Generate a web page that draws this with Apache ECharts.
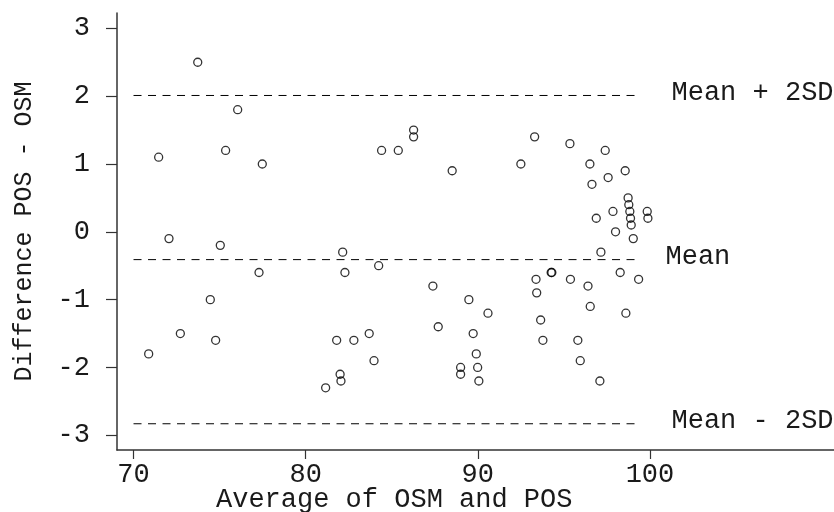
<!DOCTYPE html>
<html>
<head>
<meta charset="utf-8">
<script src="https://cdn.jsdelivr.net/npm/echarts@6/dist/echarts.min.js"></script>
<style>html,body{margin:0;padding:0;background:#fff;}#chart{width:834px;height:512px;}</style>
</head>
<body>
<div id="chart"></div>
<script>
// Average of OSM and POS (x) and Difference POS - OSM (y)
const avgValues = [
  73.73, 71.46, 76.05, 75.35, 77.48, 72.06, 75.04, 84.41, 85.38, 86.27,
  86.27, 82.15, 88.51, 92.50, 93.30, 95.35, 97.40, 96.51, 97.57, 98.56,
  96.63, 98.73, 98.77, 98.83, 98.87, 98.91, 99.84, 99.88, 97.85, 96.88,
  98.00, 99.03, 97.15, 98.27, 95.38, 96.40, 99.34, 77.29, 82.28, 84.24,
  74.46, 72.72, 74.77, 70.88, 81.80, 82.80, 83.69, 83.97, 82.00, 82.05,
  81.16, 87.39, 87.70, 89.48, 90.59, 89.73, 89.91, 89.00, 89.00, 89.99,
  90.06, 93.38, 94.26, 94.30, 93.42, 96.53, 93.65, 93.78, 95.81, 95.95,
  97.09, 98.60
];
const diffValues = [
  2.5, 1.1, 1.8, 1.2, 1.0, -0.1, -0.2, 1.2, 1.2, 1.5,
  1.4, -0.3, 0.9, 1.0, 1.4, 1.3, 1.2, 1.0, 0.8, 0.9,
  0.7, 0.5, 0.4, 0.3, 0.2, 0.1, 0.3, 0.2, 0.3, 0.2,
  0.0, -0.1, -0.3, -0.6, -0.7, -0.8, -0.7, -0.6, -0.6, -0.5,
  -1.0, -1.5, -1.6, -1.8, -1.6, -1.6, -1.5, -1.9, -2.1, -2.2,
  -2.3, -0.8, -1.4, -1.0, -1.2, -1.5, -1.8, -2.0, -2.1, -2.0,
  -2.2, -0.7, -0.6, -0.6, -0.9, -1.1, -1.3, -1.6, -1.6, -1.9,
  -2.2, -1.2
];
const limitNames = ['Mean + 2SD', 'Mean', 'Mean - 2SD'];
const limitValues = [2.01, -0.41, -2.83];
const limitXRange = [70, 99.45];
const xTicks = [70, 80, 90, 100];
const yTicks = [-3, -2, -1, 0, 1, 2, 3];
const xTitle = 'Average of OSM and POS';
const yTitle = 'Difference POS - OSM';

const FONT = 'Liberation Mono';
const TXT = '#1a1a1a';

const points = avgValues.map((x, i) => [x, diffValues[i]]);
const labelDist = [31, 25, 31];
const limitSeries = limitValues.map((v, i) => ({
  type: 'line',
  name: limitNames[i],
  data: [[limitXRange[0], v], [limitXRange[1], v]],
  symbol: 'none',
  silent: true,
  lineStyle: { color: '#000', width: 1, type: [8, 6.5] },
  endLabel: {
    show: true,
    formatter: limitNames[i],
    distance: labelDist[i],
    offset: [0, -3],
    color: TXT,
    fontFamily: FONT,
    fontSize: 27
  },
  z: 1
}));

const chart = echarts.init(document.getElementById('chart'), null, { renderer: 'canvas' });
chart.setOption({
  animation: false,
  backgroundColor: '#fff',
  grid: { left: 117, right: 0, top: 13, bottom: 62, containLabel: false },
  xAxis: {
    type: 'value',
    min: 69.04,
    max: 110.69,
    splitLine: { show: false },
    axisLine: { show: true, onZero: false, lineStyle: { color: '#333', width: 1.5 } },
    axisTick: { show: true, customValues: xTicks, length: 9, lineStyle: { color: '#333', width: 1.2 } },
    axisLabel: { customValues: xTicks, margin: 11, color: TXT, fontFamily: FONT, fontSize: 27 }
  },
  yAxis: {
    type: 'value',
    min: -3.217,
    max: 3.226,
    name: yTitle,
    nameLocation: 'middle',
    nameGap: 80,
    nameTextStyle: { color: TXT, fontFamily: FONT, fontSize: 25 },
    splitLine: { show: false },
    axisLine: { show: true, onZero: false, lineStyle: { color: '#333', width: 1.5 } },
    axisTick: { show: true, customValues: yTicks, length: 11, lineStyle: { color: '#333', width: 1.2 } },
    axisLabel: { customValues: yTicks, margin: 27, color: TXT, fontFamily: FONT, fontSize: 27 }
  },
  graphic: [{
    type: 'text',
    left: 216,
    top: 486,
    style: { text: xTitle, fill: TXT, font: '27px "Liberation Mono"' }
  }],
  series: [{
    type: 'scatter',
    name: 'Differences',
    data: points,
    symbol: 'circle',
    symbolSize: 8,
    itemStyle: { color: 'rgba(0,0,0,0)', borderColor: '#000', borderWidth: 1.3 },
    z: 3
  }].concat(limitSeries)
});
</script>
</body>
</html>
